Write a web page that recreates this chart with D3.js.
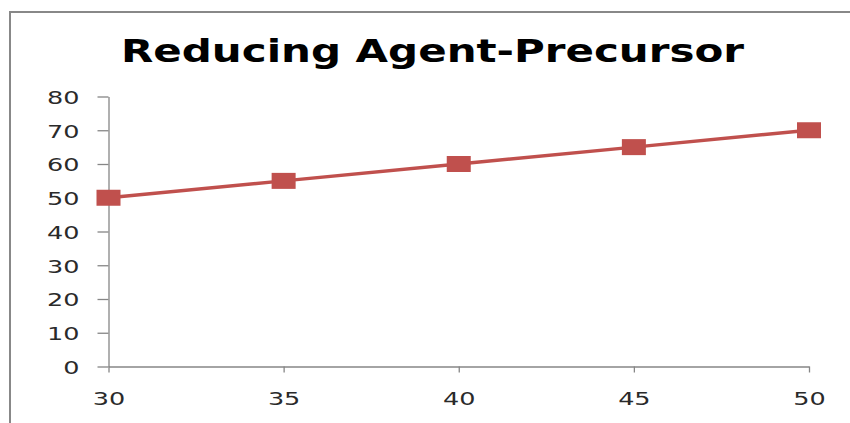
<!DOCTYPE html>
<html>
<head>
<meta charset="utf-8">
<script src="https://cdn.jsdelivr.net/npm/d3@7"></script>
<style>
  html, body { margin: 0; padding: 0; background: #fff; }
  svg { display: block; }
</style>
</head>
<body>
<div id="chart"></div>
<script>
// Dados
const title = "Reducing Agent-Precursor";
const xValues = [30, 35, 40, 45, 50];
const yValues = [50, 55, 60, 65, 70];
const xTicks = [30, 35, 40, 45, 50];
const yTicks = [0, 10, 20, 30, 40, 50, 60, 70, 80];

const width = 850, height = 423;
const lineColor = "#C0504D";
const axisColor = "#868686";
const stretch = 1.5; // o original está esticado na horizontal

const svg = d3.select("#chart").append("svg")
  .attr("width", width)
  .attr("height", height);

// Moldura do gráfico (só topo e lado esquerdo ficam visíveis)
svg.append("path")
  .attr("d", "M10,424 L10,12 L851,12")
  .attr("fill", "none")
  .attr("stroke", "#888")
  .attr("stroke-width", 2);

// Escalas
const x = d3.scaleLinear().domain([30, 50]).range([108.5, 809]);
const y = d3.scaleLinear().domain([0, 80]).range([366.5, 96.5]);

// Título
svg.append("text")
  .attr("x", 121)
  .attr("y", 62)
  .attr("font-family", "DejaVu Sans, sans-serif")
  .attr("font-weight", "bold")
  .attr("font-size", 32)
  .attr("textLength", 623)
  .attr("lengthAdjust", "spacingAndGlyphs")
  .attr("fill", "#000")
  .text(title);

// Eixo Y
const yAxis = svg.append("g")
  .attr("transform", `translate(${x(30)},0)`)
  .call(d3.axisLeft(y).tickValues(yTicks).tickSize(11).tickSizeOuter(0));

// Eixo X
const xAxis = svg.append("g")
  .attr("transform", `translate(0,${y(0)})`)
  .call(d3.axisBottom(x).tickValues(xTicks).tickSize(6).tickSizeOuter(0));

[yAxis, xAxis].forEach(g => {
  g.select(".domain").attr("stroke", axisColor).attr("stroke-width", 1.3);
  g.selectAll(".tick line").attr("stroke", axisColor).attr("stroke-width", 1.3);
  g.selectAll("text")
    .attr("font-family", "DejaVu Sans, sans-serif")
    .attr("font-size", 17)
    .attr("fill", "#2a2a2a");
});

yAxis.selectAll("text")
  .attr("x", 0)
  .attr("dy", null)
  .attr("y", 6.8)
  .attr("text-anchor", "end")
  .attr("transform", `translate(-29,0) scale(${stretch},1)`);

xAxis.selectAll("text")
  .attr("x", 0)
  .attr("dy", null)
  .attr("y", 0)
  .attr("text-anchor", "middle")
  .attr("transform", `translate(0,38) scale(${stretch},1)`);

// Linha da série
const data = xValues.map((d, i) => ({ x: d, y: yValues[i] }));

svg.append("path")
  .datum(data)
  .attr("fill", "none")
  .attr("stroke", lineColor)
  .attr("stroke-width", 3.5)
  .attr("d", d3.line().x(d => x(d.x)).y(d => y(d.y)));

// Marcadores quadrados (esticados)
const mw = 24, mh = 16;
svg.selectAll("rect.marker")
  .data(data)
  .enter()
  .append("rect")
  .attr("class", "marker")
  .attr("x", d => x(d.x) - mw / 2)
  .attr("y", d => y(d.y) - mh / 2)
  .attr("width", mw)
  .attr("height", mh)
  .attr("fill", lineColor);
</script>
</body>
</html>
